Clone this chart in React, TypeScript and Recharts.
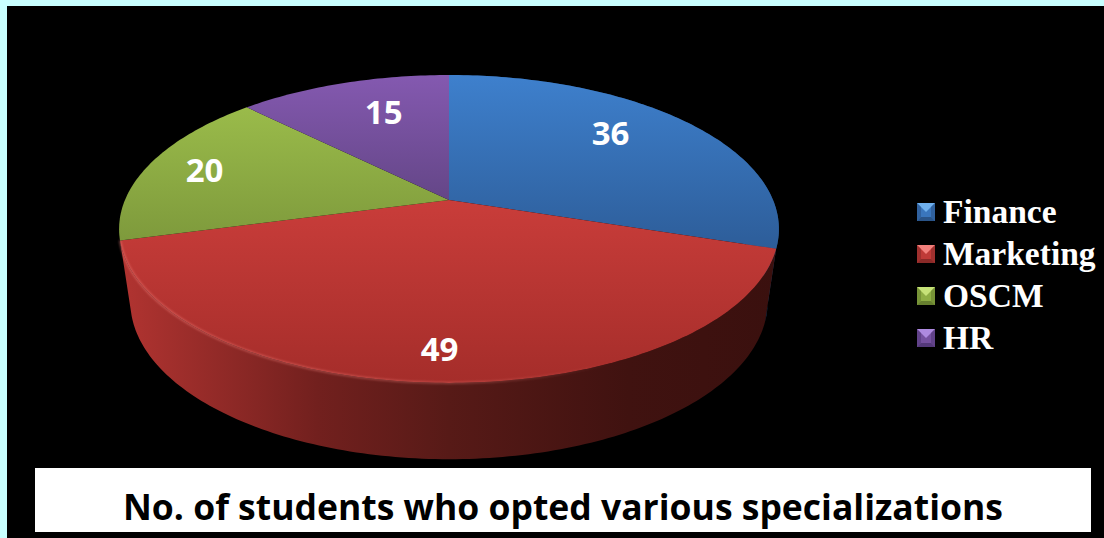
import { PieChart, Pie, Legend } from 'recharts';

const categories = ['Finance', 'Marketing', 'OSCM', 'HR'];
const students = [36, 49, 20, 15];
const topLight = ['#3e80cd', '#c93d3a', '#9abb4a', '#8459b0'];
const topDark = ['#2d5d99', '#a52d2a', '#7e9a3c', '#644687'];
const wallStops = [
  ['#1d3c63', '#1d3c63', '#1d3c63', '#1d3c63', '#1f4066'],
  ['#b23431', '#72201e', '#571a17', '#401210', '#3a100e'],
];
const wallOffsets = ['0%', '30%', '50%', '77%', '100%'];
const markerColors = ['#3a76bd', '#bf3a37', '#8eae44', '#7651a0'];
const markerLight = ['#6fb0ee', '#f2807c', '#c6e278', '#ae8ae0'];
const markerDark = ['#2a5488', '#8a2a28', '#67802f', '#54397a'];

const rows = categories.map((name, i) => ({ name, value: students[i], fill: markerColors[i] }));

// perspective of the disc, the apex sits above the middle of the ellipse
const TILT = 0.188;
const TOP_FACE = { sx: 0.997, b: 148.5, dy: 0 };
const BOTTOM_FACE = { sx: 0.963, b: 152, dy: 72 };
const LABEL_NUDGE = [
  [-20, -7],
  [-2, 19],
  [-18, -3],
  [17, 3],
];

const RAD = Math.PI / 180;

function project(p: any, angle: number, f: number, face: typeof TOP_FACE) {
  const u = Math.cos(angle * RAD) * f;
  const v = -Math.sin(angle * RAD) * f;
  const d = 1 - TILT * v;
  return [p.cx + (p.outerRadius * face.sx * u) / d, p.cy + face.dy + (face.b * v) / d];
}

function arcPoints(p: any, face: typeof TOP_FACE) {
  const steps = Math.max(2, Math.ceil(Math.abs(p.endAngle - p.startAngle)));
  const pts: number[][] = [];
  for (let i = 0; i <= steps; i++) {
    const a = p.startAngle + ((p.endAngle - p.startAngle) * i) / steps;
    pts.push(project(p, a, 1, face));
  }
  return pts;
}

const toPath = (pts: number[][]) =>
  pts.map((q, i) => `${i ? 'L' : 'M'}${q[0].toFixed(2)},${q[1].toFixed(2)}`).join(' ');

const sliceIndex = (p: any) => categories.indexOf(p.payload?.name ?? p.name);

// only Finance and Marketing show a side wall
function WallSector(p: any) {
  const i = sliceIndex(p);
  if (i > 1) return <g />;
  const top = arcPoints(p, TOP_FACE);
  const bottom = arcPoints(p, BOTTOM_FACE).reverse();
  return <path d={toPath([...top, ...bottom]) + ' Z'} fill={`url(#wall-${i})`} />;
}

function TopSector(p: any) {
  const i = sliceIndex(p);
  const arc = arcPoints(p, TOP_FACE);
  const apex = [p.cx, p.cy];
  return (
    <g>
      <path d={toPath([apex, ...arc]) + ' Z'} fill={`url(#top-${i})`} />
      {i === 1 && (
        <path d={toPath(arc)} fill="none" stroke="url(#rim)" strokeWidth={2} filter="url(#soft)" />
      )}
    </g>
  );
}

function SliceLabel(p: any) {
  const i = sliceIndex(p);
  const [x, y] = project(p, p.midAngle, 0.75, TOP_FACE);
  return (
    <text
      x={x + LABEL_NUDGE[i][0]}
      y={y + LABEL_NUDGE[i][1]}
      fill="#fff"
      fontFamily="Open Sans"
      fontWeight={700}
      fontSize={33}
      textAnchor="middle"
      dominantBaseline="central"
    >
      {p.value}
    </text>
  );
}

function Marker({ i }: { i: number }) {
  return (
    <svg width={18} height={18} style={{ marginRight: 8, flex: 'none' }}>
      <rect width={18} height={18} fill={markerColors[i]} />
      <polygon points="0,0 18,0 9,9" fill={markerLight[i]} />
      <polygon points="0,18 18,18 14,14 4,14" fill={markerDark[i]} />
      <polygon points="0,0 4,4 4,14 0,18" fill={markerDark[i]} opacity={0.6} />
      <polygon points="18,0 14,4 14,14 18,18" fill={markerDark[i]} opacity={0.6} />
    </svg>
  );
}

function LegendList({ payload }: any) {
  // both pies report their slices, show each name once
  const names = categories.filter((c) => (payload || []).some((e: any) => e.value === c));
  return (
    <div>
      {names.map((name) => (
        <div
          key={name}
          style={{
            display: 'flex',
            alignItems: 'center',
            height: 42,
            color: '#fff',
            fontFamily: 'Liberation Serif',
            fontWeight: 700,
            fontSize: 33.5,
          }}
        >
          <Marker i={categories.indexOf(name)} />
          {name}
        </div>
      ))}
    </div>
  );
}

export default function App() {
  return (
    <div style={{ position: 'absolute', left: 0, top: 0, width: 1104, height: 538, background: '#c8ffff', overflow: 'hidden' }}>
      <div style={{ position: 'absolute', left: 7, top: 6, width: 1097, height: 532, background: '#000' }} />
      <div style={{ position: 'absolute', left: 0, top: 0 }}>
        <PieChart width={1104} height={538} margin={{ top: 0, right: 0, bottom: 0, left: 0 }}>
          <defs>
            {categories.map((c, i) => (
              <linearGradient key={c} id={`top-${i}`} x1="0" y1="0" x2="0" y2="1">
                <stop offset="0%" stopColor={topLight[i]} />
                <stop offset="100%" stopColor={topDark[i]} />
              </linearGradient>
            ))}
            {wallStops.map((stops, i) => (
              <linearGradient key={i} id={`wall-${i}`} gradientUnits="userSpaceOnUse" x1="119" y1="0" x2="780" y2="0">
                {stops.map((s, j) => (
                  <stop key={j} offset={wallOffsets[j]} stopColor={s} />
                ))}
              </linearGradient>
            ))}
            <linearGradient id="rim" gradientUnits="userSpaceOnUse" x1="119" y1="0" x2="780" y2="0">
              <stop offset="0%" stopColor="#ff8a85" stopOpacity={0.5} />
              <stop offset="50%" stopColor="#ff8a85" stopOpacity={0.35} />
              <stop offset="75%" stopColor="#ff8a85" stopOpacity={0} />
            </linearGradient>
            <filter id="soft" x="-5%" y="-5%" width="110%" height="110%">
              <feGaussianBlur stdDeviation="1" />
            </filter>
          </defs>
          <Pie
            data={rows}
            dataKey="value"
            nameKey="name"
            cx={449}
            cy={200}
            outerRadius={325}
            startAngle={90}
            endAngle={-270}
            legendType="none"
            shape={WallSector}
            isAnimationActive={false}
          />
          <Pie
            data={rows}
            dataKey="value"
            nameKey="name"
            cx={449}
            cy={200}
            outerRadius={325}
            startAngle={90}
            endAngle={-270}
            shape={TopSector}
            label={SliceLabel}
            labelLine={false}
            isAnimationActive={false}
          />
          <Legend
            layout="vertical"
            align="right"
            verticalAlign="top"
            content={LegendList}
            wrapperStyle={{ left: 917, top: 191, width: 187 }}
          />
        </PieChart>
      </div>
      <div
        style={{
          position: 'absolute',
          left: 35,
          top: 468,
          width: 1056,
          height: 64,
          background: '#fff',
          color: '#000',
          fontFamily: 'Open Sans',
          fontWeight: 700,
          fontSize: 35.5,
          lineHeight: '77px',
          textAlign: 'center',
          whiteSpace: 'nowrap',
          overflow: 'hidden',
        }}
      >
        No. of students who opted various specializations
      </div>
    </div>
  );
}
